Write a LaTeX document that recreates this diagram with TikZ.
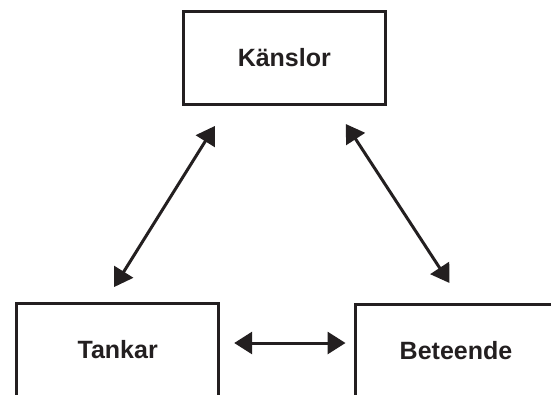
\documentclass[tikz,border=0pt]{standalone}
\usepackage{fontspec}
\setmainfont{Liberation Sans}
\usepackage{tikz}
\usetikzlibrary{arrows.meta}
\definecolor{ink}{RGB}{35,31,32}

\begin{document}
\begin{tikzpicture}[x=1pt, y=-1pt,
  model box/.style={draw=ink, line width=3pt, minimum width=202pt,
        minimum height=93pt, inner sep=0pt, text=ink,
        font=\fontsize{25}{30}\selectfont\bfseries},
  link arrow/.style={draw=ink, line width=3pt,
        {Triangle[length=18pt,width=22pt]}-{Triangle[length=18pt,width=22pt]}}
  ]
\useasboundingbox (0,0) rectangle (551,394);
\clip (0,0) rectangle (551,394);
% the three boxes
\node[model box] (kanslor) at (284.3,58) {Känslor};
\node[model box] (tankar) at (117.7,350) {Tankar};
\node[model box] (beteende) at (456,351) {Beteende};
% arrows between them
\draw[link arrow] ([shift={(33,20)}]kanslor.south west) -- ([shift={(99,-15)}]tankar.north west);
\draw[link arrow] ([shift={(-41,18)}]kanslor.south east) -- ([shift={(96,-20)}]beteende.north west);
\draw[link arrow] ([shift={(14,-7)}]tankar.east) -- ([shift={(-8,-8)}]beteende.west);
\end{tikzpicture}
\end{document}
